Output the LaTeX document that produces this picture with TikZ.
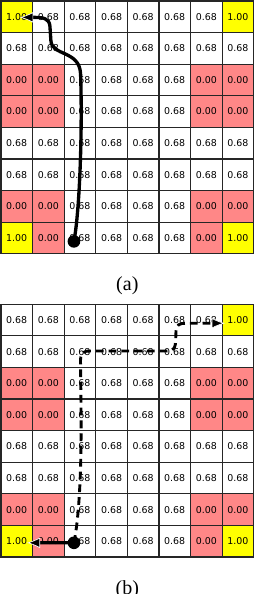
\documentclass[tikz,border=0pt]{standalone}
\usepackage{fontspec}
\setmainfont{Liberation Serif}
\newfontfamily\cellfont{DejaVu Sans}
\usetikzlibrary{arrows.meta}
\definecolor{GoalYellow}{HTML}{FFFF00}
\definecolor{HoleRed}{HTML}{FF8787}
\definecolor{GridGray}{HTML}{262626}
\newcommand\cellval[1]{\if#1h1.00\else\if#1l0.00\else0.68\fi\fi}

\begin{document}
\begin{tikzpicture}[>=Latex,
  cell/.style={draw=GridGray,line width=1.1pt,minimum size=1cm,inner sep=0pt,font=\cellfont\fontsize{8.5}{10}\selectfont},
  cellh/.style={cell,fill=GoalYellow},
  celll/.style={cell,fill=HoleRed},
  cellm/.style={cell,fill=white},
  dot/.style={circle,fill=black,minimum size=0.4cm,inner sep=0pt},
  route/.style={line width=3pt,line cap=round,-{Latex[length=0.42cm,width=0.34cm,line width=0.6pt,color=white,fill=black]}},
  dashroute/.style={line cap=butt,line width=2.6pt,dash pattern=on 7pt off 4.5pt},
  caption/.style={font=\fontsize{18}{20}\selectfont}]
  \useasboundingbox (-0.03,0.03) rectangle (8.01,-18.77);

  % two 8x8 grids, top-left corner differs
  \foreach \g/\gy/\corner in {a/0/h,b/-9.6/m}{
    \foreach \row [count=\r from 0] in {{\corner,m,m,m,m,m,m,h},{m,m,m,m,m,m,m,m},{l,l,m,m,m,m,l,l},{l,l,m,m,m,m,l,l},{m,m,m,m,m,m,m,m},{m,m,m,m,m,m,m,m},{l,l,m,m,m,m,l,l},{h,l,m,m,m,m,l,h}}
      \foreach \kind [count=\c from 0] in \row
        \node[cell\kind] (\g-\r-\c) at (\c+0.5,\gy-\r-0.5) {\cellval{\kind}};
  }

  % (a)
  \node[dot] (startA) at (2.31,-7.61) {};
  \draw[route] (startA.center) .. controls (2.5,-6.6) and (2.58,-4) .. (2.52,-2.3)
    .. controls (2.48,-1.55) and (1.6,-1.75) .. (1.58,-1.25)
    -- (1.55,-0.8) .. controls (1.53,-0.55) and (1.35,-0.52) .. ([xshift=0.1cm,yshift=-0.02cm]a-0-0.center);
  \node[caption] (capA) at (4,-9.02) {(a)};

  % (b)
  \node[dot] (startB) at (2.31,-17.15) {};
  \draw[route] (startB.center) -- ([xshift=0.32cm,yshift=-0.05cm]b-7-0.center);
  \draw[route,dashroute] (startB.center) .. controls (2.5,-16.2) and (2.56,-14.5) .. (2.53,-12.5)
    -- (2.52,-11.5) .. controls (2.5,-11.1) and (2.6,-11.08) .. (2.85,-11.08)
    -- (5.25,-11.08) .. controls (5.5,-11.08) and (5.52,-10.95) .. (5.53,-10.75)
    -- (5.54,-10.45) .. controls (5.55,-10.25) and (5.65,-10.2) .. (5.85,-10.2)
    -- ([xshift=-0.41cm,yshift=-0.1cm]b-0-7.center);
  \node[caption] (capB) at (4,-18.62) {(b)};
\end{tikzpicture}
\end{document}
